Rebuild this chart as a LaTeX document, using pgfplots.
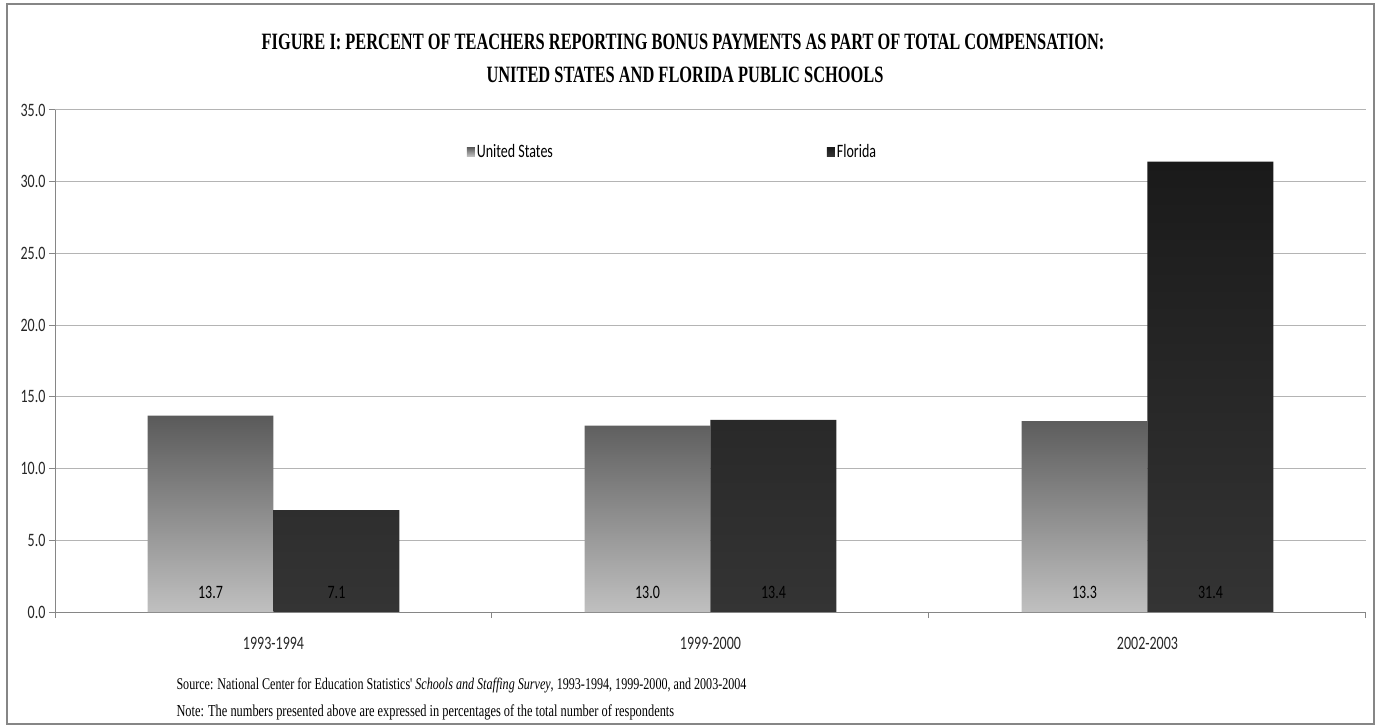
\documentclass[border=0pt]{standalone}
\usepackage{pgfplots}
\pgfplotsset{compat=1.18}
\usepackage{fontspec}
\setmainfont{Liberation Serif}
\newfontfamily\calfont[FakeStretch=0.74]{Carlito}
\newfontfamily\tnrfont[FakeStretch=0.74]{Liberation Serif}
\newfontfamily\tnrtitle[FakeStretch=0.70]{Liberation Serif}
\definecolor{usTop}{HTML}{5A5A5A}
\definecolor{usBot}{HTML}{C0C0C0}
\definecolor{flTop}{HTML}{1A1A1A}
\definecolor{flBot}{HTML}{343434}
\definecolor{gridc}{HTML}{B4B4B4}
\definecolor{axc}{HTML}{868686}
\begin{document}
\begin{tikzpicture}
\useasboundingbox (0,0) rectangle (1380bp,728bp);
\draw[axc, line width=1.2bp] (7bp,4bp) rectangle (1374bp,724bp);
\node[font=\tnrtitle\bfseries\fontsize{23.5}{26}\selectfont] at (683bp,686bp) {FIGURE I: PERCENT OF TEACHERS REPORTING BONUS PAYMENTS AS PART OF TOTAL COMPENSATION:};
\node[font=\tnrtitle\bfseries\fontsize{23.5}{26}\selectfont] at (685bp,653bp) {UNITED STATES AND FLORIDA PUBLIC SCHOOLS};
\node[font=\tnrfont\fontsize{16.4}{19}\selectfont, anchor=west] at (173bp,42bp) {Source: National Center for Education Statistics' \textit{Schools and Staffing Survey}, 1993-1994, 1999-2000, and 2003-2004};
\node[font=\tnrfont\fontsize{16.8}{19}\selectfont, anchor=west] at (173bp,16bp) {Note: The numbers presented above are expressed in percentages of the total number of respondents};
\begin{axis}[
  at={(55bp,116bp)}, anchor=south west, scale only axis,
  width=1311bp, height=502bp,
  xmin=-0.5, xmax=2.5, ymin=0, ymax=35,
  ytick={0,5,10,15,20,25,30,35},
  xtick={0,1,2},
  xticklabels={1993-1994,1999-2000,2002-2003},
  minor xtick={-0.5,0.5,1.5,2.5},
  major x tick style={draw=none},
  minor x tick style={axc, line width=1bp},
  minor tick length=6bp,
  major tick length=6bp,
  tick align=outside,
  axis x line*=bottom, axis y line*=left,
  axis line style={axc, line width=1bp},
  ytick style={axc, line width=1bp},
  ymajorgrids, grid style={gridc, line width=1bp},
  /pgf/number format/assume math mode=true,
  yticklabel style={font=\calfont\fontsize{19}{22}\selectfont, text=black!85, /pgf/number format/.cd, fixed, fixed zerofill, precision=1},
  xticklabel style={font=\calfont\fontsize{19}{22}\selectfont, text=black!85, yshift=-16bp},
  legend columns=2,
  legend cell align=left,
  legend style={at={(0.314,0.916)}, anchor=west, draw=none, fill=none,
    font=\calfont\fontsize{19}{22}\selectfont, inner sep=0pt,
    /tikz/every even column/.append style={column sep=272bp},
    nodes={inner xsep=2bp}},
  legend image code/.code={\path[#1] (0bp,-4bp) rectangle (8bp,5bp);},
  clip=false,
]
\addplot[ybar, bar width=0.2883, bar shift=-0.14415, draw=none, top color=usTop, bottom color=usBot, middle color=usTop!50!usBot]
  coordinates {(0,13.7) (1,13.0) (2,13.3)};
\addlegendentry{United States}
\addplot[ybar, bar width=0.2883, bar shift=0.14415, draw=none, top color=flTop, bottom color=flBot]
  coordinates {(0,7.1) (1,13.4) (2,31.4)};
\addlegendentry{Florida}
\addplot[only marks, mark=none, draw=none, forget plot, point meta=explicit symbolic,
  nodes near coords, every node near coord/.append style={anchor=south, yshift=10bp, font=\calfont\fontsize{19}{22}\selectfont, text=black}]
  coordinates {(-0.14415,0)[13.7] (0.85585,0)[13.0] (1.85585,0)[13.3]
               (0.14415,0)[7.1] (1.14415,0)[13.4] (2.14415,0)[31.4]};
\end{axis}
\end{tikzpicture}
\end{document}
